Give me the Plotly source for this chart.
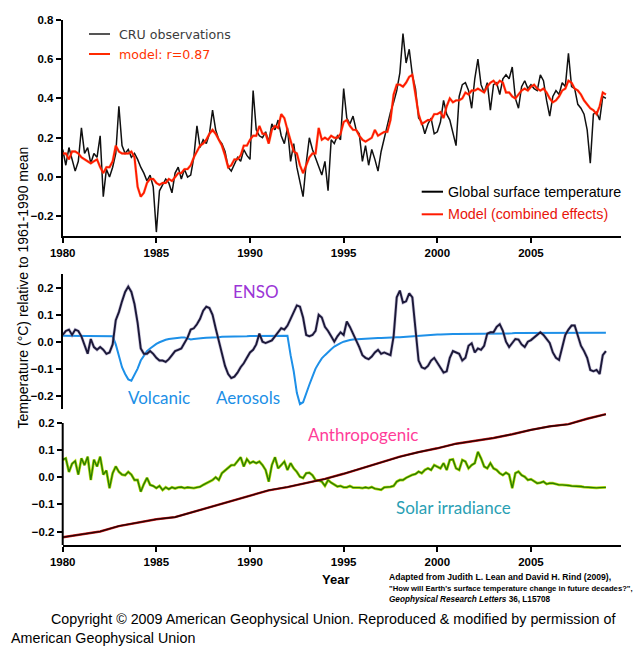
import numpy as np
import plotly.graph_objects as go

# ---------------------------------------------------------------------------
# Data: bi-monthly samples, 1980.0 -> 2009.0 (175 points per series)
# ---------------------------------------------------------------------------
years = np.round(1980 + np.arange(175) / 6.0, 4)

cru_obs = [
    0.14, 0.06, 0.15, 0.09, 0.03, 0.08,
    0.25, 0.12, 0.15, 0.07, 0.12, 0.10,
    0.21, -0.10, 0.04, 0.00, 0.05, 0.12,
    0.36, 0.16, 0.12, 0.14, 0.10, 0.12,
    0.09, 0.05, 0.02, -0.02, 0.01, -0.05,
    -0.28, -0.07, -0.04, -0.01, -0.03, -0.08,
    0.02, 0.05, -0.01, 0.04, 0.00, 0.01,
    0.10, 0.26, 0.15, 0.19, 0.17, 0.22,
    0.34, 0.24, 0.19, 0.17, 0.13, 0.05,
    0.03, 0.07, 0.10, 0.08, 0.14, 0.11,
    0.09, 0.44, 0.24, 0.21, 0.20, 0.23,
    0.18, 0.27, 0.24, 0.29, 0.21, 0.17,
    0.25, 0.08, 0.17, 0.05, -0.03, -0.10,
    0.07, 0.20, 0.14, 0.10, 0.05, 0.01,
    0.08, -0.07, 0.19, 0.17, 0.21, 0.19,
    0.45, 0.30, 0.27, 0.31, 0.24, 0.22,
    0.08, 0.16, 0.06, 0.14, 0.09, 0.03,
    0.13, 0.20, 0.26, 0.33, 0.38, 0.44,
    0.53, 0.73, 0.58, 0.65, 0.52, 0.45,
    0.30, 0.28, 0.22, 0.27, 0.30, 0.22,
    0.23, 0.28, 0.39, 0.32, 0.29, 0.22,
    0.16, 0.41, 0.47, 0.48, 0.44, 0.35,
    0.50, 0.60, 0.47, 0.43, 0.48, 0.34,
    0.47, 0.48, 0.42, 0.50, 0.52, 0.50,
    0.56, 0.40, 0.35, 0.46, 0.49, 0.45,
    0.47, 0.45, 0.44, 0.52, 0.49, 0.39,
    0.31, 0.41, 0.44, 0.42, 0.48, 0.46,
    0.63, 0.46, 0.45, 0.37, 0.35, 0.32,
    0.24, 0.07, 0.32, 0.33, 0.29, 0.41,
    0.40,
]

model_combined = [
    0.12, 0.12, 0.09, 0.13, 0.13, 0.12,
    0.10, 0.09, 0.08, 0.07, 0.08, 0.09,
    0.05, 0.02, 0.05, 0.05, 0.08, 0.16,
    0.13, 0.12, 0.12, 0.12, 0.13, 0.10,
    -0.05, -0.10, -0.08, -0.03, -0.01, -0.01,
    -0.03, -0.04, -0.03, -0.03, -0.01, -0.02,
    0.00, 0.02, 0.02, 0.04, 0.04, 0.06,
    0.10, 0.13, 0.16, 0.17, 0.19, 0.22,
    0.24, 0.22, 0.19, 0.16, 0.11, 0.05,
    0.06, 0.09, 0.09, 0.11, 0.16, 0.16,
    0.19, 0.21, 0.21, 0.26, 0.22, 0.22,
    0.17, 0.24, 0.26, 0.25, 0.32, 0.30,
    0.24, 0.18, 0.13, 0.12, 0.06, 0.02,
    0.06, 0.10, 0.12, 0.12, 0.25, 0.19,
    0.20, 0.19, 0.21, 0.20, 0.20, 0.22,
    0.28, 0.29, 0.26, 0.24, 0.24, 0.21,
    0.19, 0.18, 0.19, 0.20, 0.24, 0.21,
    0.22, 0.23, 0.23, 0.29, 0.42, 0.47,
    0.47, 0.46, 0.48, 0.51, 0.52, 0.42,
    0.32, 0.27, 0.28, 0.29, 0.29, 0.32,
    0.32, 0.33, 0.30, 0.36, 0.40, 0.38,
    0.39, 0.39, 0.40, 0.43, 0.42, 0.44,
    0.44, 0.45, 0.44, 0.43, 0.46, 0.48,
    0.49, 0.47, 0.49, 0.48, 0.43, 0.43,
    0.41, 0.40, 0.42, 0.44, 0.45, 0.44,
    0.46, 0.47, 0.45, 0.44, 0.45, 0.43,
    0.40, 0.38, 0.39, 0.41, 0.44, 0.45,
    0.49, 0.48, 0.45, 0.44, 0.42, 0.39,
    0.37, 0.35, 0.34, 0.32, 0.36, 0.43,
    0.42,
]

enso = [
    0.025, 0.04, 0.045, 0.025, 0.045, 0.04,
    0.02, -0.015, -0.045, 0.01, -0.02, -0.03,
    -0.02, -0.03, -0.045, -0.04, -0.01, 0.08,
    0.11, 0.15, 0.185, 0.205, 0.185, 0.14,
    0.07, -0.025, -0.045, -0.045, -0.035, -0.045,
    -0.06, -0.07, -0.07, -0.075, -0.065, -0.05,
    -0.035, -0.03, -0.025, -0.005, 0.015, 0.045,
    0.05, 0.065, 0.085, 0.115, 0.13, 0.125,
    0.10, 0.05, 0.0, -0.045, -0.09, -0.12,
    -0.135, -0.13, -0.115, -0.095, -0.08, -0.06,
    -0.04, -0.03, -0.01, 0.03, 0.0, -0.005,
    0.0, 0.005, 0.02, 0.035, 0.05, 0.045,
    0.06, 0.085, 0.11, 0.135, 0.13, 0.09,
    0.025, 0.02, 0.025, 0.04, 0.10, 0.09,
    0.055, 0.04, 0.02, 0.0, 0.02, 0.035,
    0.025, 0.075, 0.055, 0.03, 0.01, -0.02,
    -0.05, -0.06, -0.065, -0.055, -0.04, -0.03,
    -0.045, -0.04, -0.045, -0.05, 0.02, 0.165,
    0.19, 0.145, 0.15, 0.18, 0.165, 0.06,
    -0.07, -0.095, -0.10, -0.09, -0.07, -0.06,
    -0.08, -0.10, -0.115, -0.11, -0.06, -0.035,
    -0.04, -0.045, -0.07, -0.06, -0.015, -0.006,
    -0.04, -0.025, -0.03, -0.015, 0.03, 0.035,
    0.035, 0.055, 0.065, 0.04, 0.0, -0.02,
    -0.005, 0.01, 0.008, -0.01, -0.02, 0.0,
    0.006, 0.015, 0.025, 0.035, 0.025, 0.012,
    -0.005, -0.04, -0.06, -0.068, -0.02, 0.025,
    0.045, 0.06, 0.06, 0.025, -0.015, -0.035,
    -0.06, -0.105, -0.11, -0.105, -0.12, -0.05,
    -0.035,
]

volcanic = [
    0.022, 0.022, 0.022, 0.022, 0.022, 0.022,
    0.022, 0.022, 0.022, 0.022, 0.022, 0.022,
    0.022, 0.022, 0.022, 0.021, 0.020, -0.010,
    -0.055, -0.095, -0.120, -0.140, -0.145, -0.125,
    -0.100, -0.070, -0.050, -0.035, -0.025, -0.015,
    -0.008, -0.002, 0.003, 0.007, 0.010, 0.012,
    0.014, 0.015, 0.016, 0.016, 0.012, 0.008,
    0.010, 0.012, 0.013, 0.014, 0.015, 0.015,
    0.016, 0.017, 0.017, 0.018, 0.018, 0.018,
    0.019, 0.019, 0.019, 0.020, 0.020, 0.020,
    0.021, 0.021, 0.021, 0.021, 0.021, 0.021,
    0.022, 0.022, 0.022, 0.022, 0.022, 0.022,
    0.022, -0.050, -0.110, -0.190, -0.232, -0.225,
    -0.190, -0.160, -0.130, -0.100, -0.080, -0.062,
    -0.050, -0.038, -0.028, -0.018, -0.010, -0.005,
    0.000, 0.004, 0.006, 0.008, 0.009, 0.010,
    0.011, 0.012, 0.012, 0.013, 0.013, 0.014,
    0.014, 0.015, 0.015, 0.016, 0.016, 0.017,
    0.017, 0.018, 0.018, 0.019, 0.019, 0.020,
    0.021, 0.022, 0.023, 0.024, 0.025, 0.026,
    0.027, 0.027, 0.028, 0.028, 0.028, 0.029,
    0.029, 0.029, 0.029, 0.030, 0.030, 0.030,
    0.030, 0.030, 0.030, 0.031, 0.031, 0.031,
    0.031, 0.031, 0.031, 0.031, 0.031, 0.031,
    0.031, 0.032, 0.032, 0.032, 0.032, 0.032,
    0.032, 0.032, 0.032, 0.032, 0.032, 0.032,
    0.032, 0.032, 0.032, 0.032, 0.032, 0.032,
    0.033, 0.033, 0.033, 0.033, 0.033, 0.033,
    0.033, 0.033, 0.033, 0.033, 0.033, 0.033,
    0.033,
]

solar = [
    0.065, 0.07, 0.02, 0.05, 0.06, 0.01,
    0.07, 0.045, 0.076, -0.01, 0.065, 0.04,
    0.076, 0.01, 0.025, -0.04, 0.015, 0.04,
    0.02, 0.01, 0.008, 0.02, 0.01, -0.01,
    -0.01, -0.053, -0.025, -0.002, -0.028, -0.032,
    -0.04, -0.032, -0.047, -0.037, -0.044, -0.037,
    -0.041, -0.037, -0.036, -0.04, -0.037, -0.038,
    -0.04, -0.037, -0.035, -0.028, -0.022, -0.015,
    -0.01, 0.0, -0.01, 0.015, 0.025, 0.033,
    0.045, 0.045, 0.058, 0.074, 0.04, 0.067,
    0.052, 0.058, 0.052, 0.058, 0.045, 0.027,
    -0.016, 0.045, 0.074, 0.033, 0.045, 0.058,
    0.027, 0.052, 0.033, 0.02, 0.002, -0.003,
    0.015, 0.017, 0.008, -0.01, -0.012, -0.016,
    -0.032, -0.01, -0.02, -0.028, -0.034, -0.032,
    -0.037, -0.037, -0.032, -0.038, -0.037, -0.038,
    -0.04, -0.037, -0.04, -0.036, -0.042, -0.044,
    -0.046, -0.037, -0.037, -0.035, -0.032, -0.016,
    -0.01, -0.01, -0.002, 0.004, 0.009, 0.012,
    0.021, 0.015, 0.027, 0.033, 0.027, 0.045,
    0.04, 0.033, 0.052, 0.027, 0.064, 0.066,
    0.033, 0.027, 0.064, 0.058, 0.033, 0.045,
    0.052, 0.094, 0.07, 0.04, 0.033, 0.052,
    0.033, 0.027, 0.015, 0.008, 0.017, 0.01,
    -0.04, 0.015, 0.021, 0.008, 0.002, -0.01,
    -0.007, -0.016, -0.022, -0.02, -0.016, -0.025,
    -0.022, -0.022, -0.025, -0.028, -0.028, -0.028,
    -0.03, -0.032, -0.032, -0.034, -0.034, -0.036,
    -0.037, -0.037, -0.037, -0.039, -0.038, -0.038,
    -0.037,
]

# Anthropogenic component: smooth, sampled yearly
anthro_years = list(range(1980, 2010))
anthropogenic = [
    -0.221, -0.210, -0.200, -0.180, -0.167, -0.155, -0.147, -0.127, -0.108, -0.087,
    -0.068, -0.048, -0.036, -0.022, -0.006, 0.013, 0.034, 0.055, 0.076, 0.093,
    0.107, 0.124, 0.135, 0.145, 0.159, 0.175, 0.188, 0.196, 0.216, 0.233,
]

x_ticks = [1980, 1985, 1990, 1995, 2000, 2005]

for series in (cru_obs, model_combined, enso, volcanic, solar):
    assert len(series) == len(years)

# ---------------------------------------------------------------------------
# Layout helpers (pixel -> paper)
# ---------------------------------------------------------------------------
W, H = 639, 647


def px(x):
    return x / W


def py(y):
    return 1 - y / H


X_RANGE = [1980, 2009.79]
X_DOMAIN = [px(62.7), px(620.7)]

fig = go.Figure()

# --- top panel -------------------------------------------------------------
fig.add_trace(go.Scatter(x=years, y=cru_obs, mode="lines",
                         line=dict(color="#111111", width=1.5),
                         xaxis="x", yaxis="y", hoverinfo="skip"))
fig.add_trace(go.Scatter(x=years, y=model_combined, mode="lines",
                         line=dict(color="#ff7a30", width=2.8),
                         opacity=0.4, xaxis="x", yaxis="y", hoverinfo="skip"))
fig.add_trace(go.Scatter(x=years, y=model_combined, mode="lines",
                         line=dict(color="#ff1a00", width=1.9),
                         xaxis="x", yaxis="y", hoverinfo="skip"))

# --- middle panel ----------------------------------------------------------
fig.add_trace(go.Scatter(x=years, y=volcanic, mode="lines",
                         line=dict(color="#1e90e8", width=2.0),
                         xaxis="x2", yaxis="y2", hoverinfo="skip"))
fig.add_trace(go.Scatter(x=years, y=enso, mode="lines",
                         line=dict(color="#8a7fb0", width=3.2),
                         opacity=0.45, xaxis="x2", yaxis="y2", hoverinfo="skip"))
fig.add_trace(go.Scatter(x=years, y=enso, mode="lines",
                         line=dict(color="#1b1838", width=1.9),
                         xaxis="x2", yaxis="y2", hoverinfo="skip"))

# --- bottom panel ----------------------------------------------------------
fig.add_trace(go.Scatter(x=years, y=solar, mode="lines",
                         line=dict(color="#b4dc10", width=2.8),
                         xaxis="x3", yaxis="y3", hoverinfo="skip"))
fig.add_trace(go.Scatter(x=years, y=solar, mode="lines",
                         line=dict(color="#2a7d00", width=1.4),
                         xaxis="x3", yaxis="y3", hoverinfo="skip"))
fig.add_trace(go.Scatter(x=anthro_years, y=anthropogenic, mode="lines",
                         line=dict(color="#d82020", width=2.4),
                         xaxis="x3", yaxis="y3", hoverinfo="skip"))
fig.add_trace(go.Scatter(x=anthro_years, y=anthropogenic, mode="lines",
                         line=dict(color="#2c0404", width=1.6),
                         xaxis="x3", yaxis="y3", hoverinfo="skip"))

tick_font = dict(family="Liberation Sans, Arial, sans-serif", size=11.5,
                 color="#000000", weight="bold")

axis_common = dict(showgrid=False, zeroline=False, linecolor="#000000",
                   linewidth=2, ticks="outside", ticklen=5, tickwidth=1.5,
                   tickcolor="#000000", tickfont=tick_font, automargin=False)

fig.update_layout(
    width=W, height=H,
    margin=dict(l=0, r=0, t=0, b=0, pad=0),
    paper_bgcolor="white", plot_bgcolor="rgba(0,0,0,0)",
    showlegend=False,
    xaxis=dict(domain=X_DOMAIN, range=X_RANGE, anchor="y", showline=True,
               tickvals=x_ticks, **axis_common),
    yaxis=dict(domain=[py(236.0), py(19.8)], range=[-0.3, 0.8], anchor="x",
               showline=True, tickvals=[-0.2, 0.0, 0.2, 0.4, 0.6, 0.8],
               tickformat=".1f", **axis_common),
    xaxis2=dict(domain=X_DOMAIN, range=X_RANGE, anchor="y2", visible=False,
                automargin=False),
    yaxis2=dict(domain=[py(408.95), py(274.45)], range=[-0.25, 0.25],
                anchor="x2", showline=True,
                tickvals=[-0.2, -0.1, 0.0, 0.1, 0.2], tickformat=".1f",
                **axis_common),
    xaxis3=dict(domain=X_DOMAIN, range=X_RANGE, anchor="y3", showline=True,
                tickvals=x_ticks, **axis_common),
    yaxis3=dict(domain=[py(545.05), py(409.55)], range=[-0.25, 0.25],
                anchor="x3", showline=False,
                tickvals=[-0.2, -0.1, 0.0, 0.1, 0.2], tickformat=".1f",
                **axis_common),
)

# y axis line of the bottom panel stops at the 0.2 tick
fig.add_shape(type="line", xref="paper", yref="y3",
              x0=X_DOMAIN[0], x1=X_DOMAIN[0], y0=-0.25, y1=0.2,
              line=dict(color="#000000", width=2))


# --- legend keys (top panel) -------------------------------------------------
def key_line(x0, x1, y, color):
    fig.add_shape(type="line", xref="paper", yref="paper",
                  x0=px(x0), x1=px(x1), y0=py(y), y1=py(y),
                  line=dict(color=color, width=2))


def label(text, x, y, size, color, family, xanchor="left", weight=None,
          **kw):
    font = dict(family=family, size=size, color=color)
    if weight:
        font["weight"] = weight
    fig.add_annotation(text=text, xref="paper", yref="paper",
                       x=px(x), y=py(y), xanchor=xanchor, yanchor="middle",
                       showarrow=False, borderpad=0, font=font, **kw)


ARIAL = "Liberation Sans, Arial, sans-serif"

key_line(89, 110, 34, "#555555")
key_line(89, 110, 54, "#ff2a00")
label("CRU observations", 118, 34, 12.6, "#3c3c3c", "DejaVu Sans")
label("model: r=0.87", 118, 54, 12.6, "#ff3300", "DejaVu Sans")

key_line(421.7, 443, 191.7, "#000000")
key_line(421.7, 443, 214.3, "#ff1a00")
label("Global surface temperature", 447, 191.7, 14.3, "#000000", ARIAL)
label("Model (combined effects)", 447, 214.3, 14.3, "#e8140a", ARIAL)

# --- component labels --------------------------------------------------------
comp_font = "Lato, Open Sans, sans-serif"
label("ENSO", 256, 291, 17, "#9b35d6", comp_font, xanchor="center")
label("Volcanic", 159, 397.3, 17, "#1c8fe6", comp_font, xanchor="center")
label("Aerosols", 247.5, 397.3, 17, "#1c8fe6", comp_font, xanchor="center")
label("Anthropogenic", 362.5, 434.5, 17, "#ff3d99", comp_font, xanchor="center")
label("Solar irradiance", 453, 507.5, 17, "#2a9fb4", comp_font,
      xanchor="center")

# --- axis titles -------------------------------------------------------------
label("Temperature (°C) relative to 1961-1990 mean", 22, 287.5, 14, "#000000",
      ARIAL, xanchor="center", textangle=-90)
label("Year", 335, 579, 13, "#000000", ARIAL, xanchor="center",
      weight="bold")

# --- source notes ------------------------------------------------------------
label("Adapted from Judith L. Lean and David H. Rind (2009),", 388, 577, 8.6,
      "#000000", ARIAL, weight="bold")
label("\"How will Earth's surface temperature change in future decades?\",",
      388, 588, 7.7, "#000000", ARIAL, weight="bold")
label("<i>Geophysical Research Letters</i> 36, L15708", 388, 599, 8.2,
      "#000000", ARIAL, weight="bold")
label("Copyright © 2009 American Geophysical Union. Reproduced & modified "
      "by permission of", 50, 619, 14.3, "#000000", ARIAL)
label("American Geophysical Union", 10, 638, 14.3, "#000000", ARIAL)

fig.write_html("out.html")
